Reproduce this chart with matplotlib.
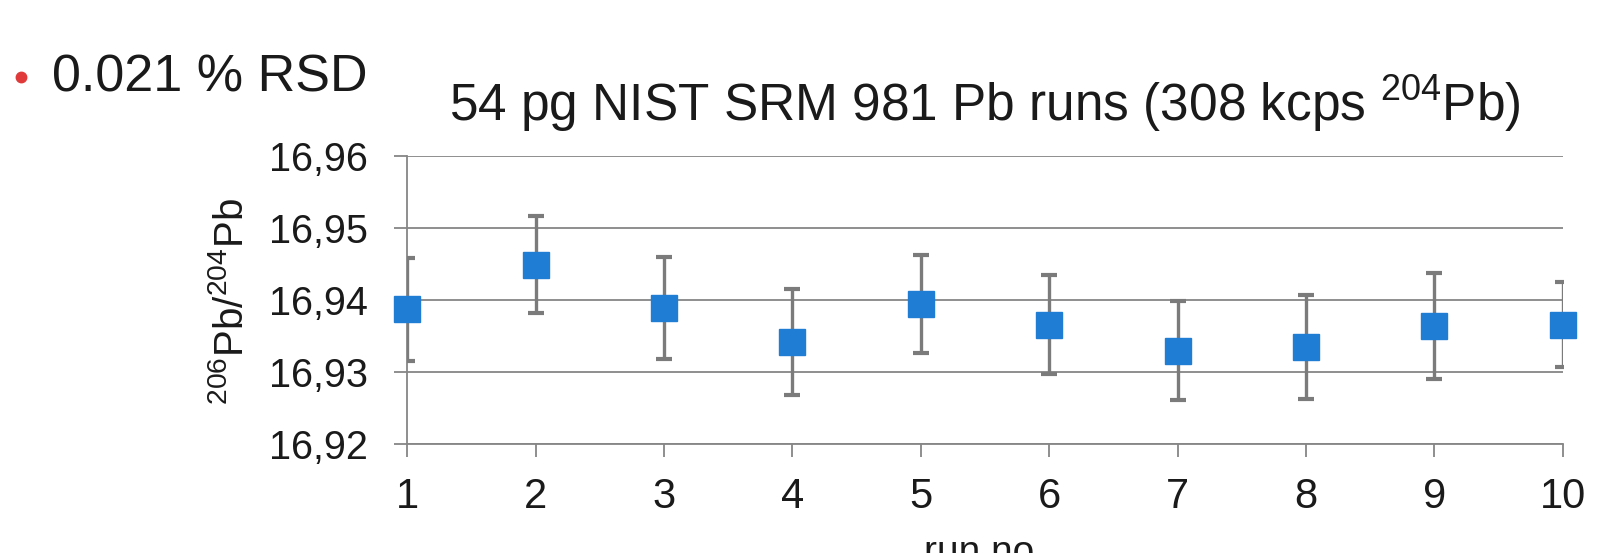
import numpy as np
import matplotlib as mpl
import matplotlib.pyplot as plt
from matplotlib.lines import Line2D
from matplotlib.ticker import FuncFormatter

# 206Pb/204Pb ratio per run, with error bar half-widths
runs = [1, 2, 3, 4, 5, 6, 7, 8, 9, 10]
ratio = [16.9387, 16.9449, 16.9389, 16.9342, 16.9395, 16.9366, 16.9330, 16.9335, 16.9364, 16.9366]
err = [0.0071, 0.0067, 0.0071, 0.0073, 0.0068, 0.0068, 0.0069, 0.0072, 0.0073, 0.0059]
yticks = [16.92, 16.93, 16.94, 16.95, 16.96]

title = "54 pg NIST SRM 981 Pb runs (308 kcps $^{204}$Pb)"
ylabel = "$^{206}$Pb/$^{204}$Pb"
xlabel = "run no."
note = "0.021 % RSD"

plt.rcParams['font.family'] = ['Liberation Sans', 'DejaVu Sans']
plt.rcParams['mathtext.fontset'] = 'custom'
plt.rcParams['mathtext.rm'] = 'Liberation Sans'
plt.rcParams['mathtext.it'] = 'Liberation Sans'
plt.rcParams['mathtext.default'] = 'regular'

ink = '#1a1a1a'
grey = '#868686'
bar_grey = '#7b7b7b'
blue = '#1f7dd4'

fig = plt.figure(figsize=(15.98, 5.53), dpi=100)
ax = fig.add_axes([0.25488, 0.19657, 0.72303, 0.52188])

# error bars stay inside the plot area, markers may spill over the edge
ax.errorbar(runs, ratio, yerr=err, fmt='none', ecolor=bar_grey,
            elinewidth=2.4, capsize=6, capthick=3.0, zorder=3)
ax.plot(runs, ratio, 's', ms=19, color=blue, mec=blue, clip_on=False, zorder=4)

ax.set_xlim(1, 10)
ax.set_ylim(16.92, 16.96)
ax.set_xticks(runs)
ax.set_yticks(yticks)
ax.yaxis.set_major_formatter(FuncFormatter(lambda v, p: f"{v:.2f}".replace('.', ',')))

ax.grid(axis='y', color=grey, lw=1.3)
ax.set_axisbelow(True)
for side in ['top', 'right']:
    ax.spines[side].set_visible(False)
for side in ['left', 'bottom']:
    ax.spines[side].set_color(grey)
    ax.spines[side].set_linewidth(1.3)

ax.tick_params(axis='both', direction='out', length=9.5, width=1.3, color=grey,
               labelcolor=ink)
ax.tick_params(axis='y', pad=19, labelsize=28.5)
ax.tick_params(axis='x', pad=14, labelsize=30)

ax.set_title(title, fontsize=37, color=ink, pad=25)
fig.text(232 / 1598, 1 - 302 / 553, ylabel, rotation=90, fontsize=29,
         color=ink, ha='center', va='center')
fig.text(985 / 1598, 1 - 535 / 553, xlabel, fontsize=28, color=ink,
         ha='center', va='top')

# bullet line above the chart
fig.add_artist(Line2D([21 / 1598], [1 - 77 / 553], marker='o', ms=7.5,
                      color='#e03a3a', transform=fig.transFigure))
fig.text(52 / 1598, 1 - 92 / 553, note, fontsize=37.5, color=ink,
         ha='left', va='baseline')

fig.savefig('out.png', dpi=100)
